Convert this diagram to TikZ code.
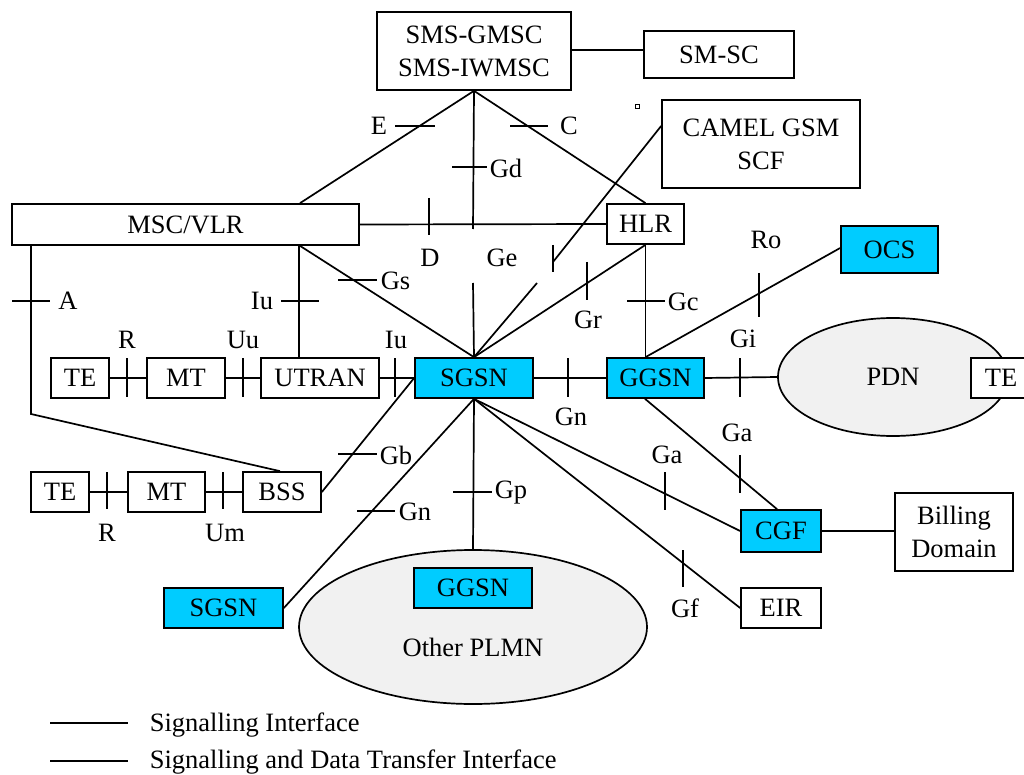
\documentclass[tikz,border=0pt]{standalone}
\usepackage{fontspec}
\setmainfont{Liberation Serif}
\usetikzlibrary{shapes.geometric}
\definecolor{cy}{HTML}{00CCFF}
\definecolor{lg}{HTML}{F1F1F1}
\begin{document}
\begin{tikzpicture}[x=1pt,y=-1pt,line width=1.7pt,
  box/.style={draw,rectangle,inner sep=0pt,align=center,fill=white,font=\fontsize{26.5}{33}\selectfont},
  gbox/.style={box,fill=cy},
  cloud/.style={draw,ellipse,fill=lg,inner sep=0pt,font=\fontsize{26.5}{33}\selectfont},
  lab/.style={inner sep=0pt,font=\fontsize{26.5}{33}\selectfont}]
\useasboundingbox (0,0) rectangle (1024,775);
% clouds
\node[cloud,minimum width=230,minimum height=118] (pdn) at (893,377) {PDN};
\node[cloud,minimum width=348,minimum height=154] (plmn) at (473,627) {};
\node[lab] (tplmn) at (473,647) {Other PLMN};
% boxes
\node[box,minimum width=194,minimum height=78] (sms) at (474,51) {SMS-GMSC\\SMS-IWMSC};
\node[box,minimum width=150,minimum height=47] (smsc) at (719,54.5) {SM-SC};
\node[box,minimum width=198,minimum height=88] (camel) at (761,144) {CAMEL GSM\\SCF};
\node[box,minimum width=347,minimum height=41] (msc) at (185.5,224.5) {MSC/VLR};
\node[box,minimum width=77,minimum height=40] (hlr) at (645.5,224) {HLR};
\node[gbox,minimum width=97,minimum height=47] (ocs) at (889.5,249.5) {OCS};
\node[box,minimum width=58,minimum height=40] (te1) at (80,378) {TE};
\node[box,minimum width=78,minimum height=40] (mt1) at (186,378) {MT};
\node[box,minimum width=118,minimum height=40] (utran) at (320,378) {UTRAN};
\node[gbox,minimum width=118,minimum height=40] (sgsn) at (474,378) {SGSN};
\node[gbox,minimum width=97,minimum height=40] (ggsn) at (655.5,378) {GGSN};
\node[box,minimum width=60,minimum height=40] (te3) at (1001,378) {TE};
\node[box,minimum width=58,minimum height=40] (te2) at (60,492) {TE};
\node[box,minimum width=77,minimum height=40] (mt2) at (166.5,492) {MT};
\node[box,minimum width=78,minimum height=40] (bss) at (282,492) {BSS};
\node[gbox,minimum width=80,minimum height=42] (cgf) at (781,531) {CGF};
\node[box,minimum width=118,minimum height=78] (bill) at (954,532) {Billing\\Domain};
\node[box,minimum width=80,minimum height=40] (eir) at (781,608) {EIR};
\node[gbox,minimum width=119,minimum height=40] (sgsn2) at (223.5,608) {SGSN};
\node[gbox,minimum width=118,minimum height=40] (ggsn2) at (473,588) {GGSN};
% stray mark
\draw[line width=0.9pt] (635,104) rectangle (639,108);
% connectors
\draw (sms.south) -- (msc.north -| 300,0);
\draw (395,126) -- (435,126);
\node[lab] (lE) at (379,126) {E};
\draw (sms.south) -- (473,229);
\draw (473,283) -- (sgsn.north);
\draw (452,167) -- (487,167);
\node[lab,anchor=west] (lGd) at (489,168) {Gd};
\draw (sms.south) -- (hlr.north);
\draw (510,126) -- (548,126);
\node[lab] (lC) at (569,126) {C};
\draw (sms.east |- 0,50) -- (smsc.west |- 0,50);
\draw (msc.east) -- (hlr.west);
\draw (429,198) -- (429,235);
\node[lab] (lD) at (430,258) {D};
\draw (msc.south -| 300,0) -- (sgsn.north);
\draw (338,280) -- (377,280);
\node[lab,anchor=west] (lGs) at (380,281) {Gs};
\draw (msc.south -| 299,0) -- (utran.north -| 299,0);
\draw (281,301) -- (319,301);
\node[lab] (lIu1) at (262,301) {Iu};
\draw (msc.south -| 31,0) -- (31,414) -- (bss.north -| 280,0);
\draw (12,301) -- (50,301);
\node[lab] (lA) at (68,301) {A};
\draw (camel.west |- 0,126) -- (553,262);
\draw (537,283) -- (sgsn.north);
\draw (553,245) -- (553,272);
\node[lab] (lGe) at (502,258) {Ge};
\draw (sgsn.north) -- (hlr.south);
\draw (587,262) -- (587,300);
\node[lab] (lGr) at (588,320) {Gr};
\draw (hlr.south) -- (hlr.south |- ggsn.north);
\draw (627,301) -- (665,301);
\node[lab,anchor=west] (lGc) at (667,302) {Gc};
\draw (hlr.south |- ggsn.north) -- (ocs.west |- 0,248);
\draw (759,273) -- (759,317);
\node[lab] (lRo) at (766,240) {Ro};
\draw (sgsn.east) -- (ggsn.west);
\draw (568,358) -- (568,397);
\node[lab] (lGn1) at (571,417) {Gn};
\draw (ggsn.east) -- (pdn.west);
\draw (740,358) -- (740,397);
\node[lab] (lGi) at (743,339) {Gi};
\draw (ggsn.south -| 645,0) -- (cgf.north -| 777,0);
\draw (740,455) -- (740,493);
\node[lab] (lGa1) at (737,433) {Ga};
\draw (sgsn.south) -- (cgf.west);
\draw (665,472) -- (665,510);
\node[lab] (lGa2) at (667,455) {Ga};
\draw (cgf.east) -- (cgf.east -| bill.west);
\draw (sgsn.south) -- (eir.west);
\draw (683,550) -- (683,587);
\node[lab] (lGf) at (685,608) {Gf};
\draw (sgsn.south) -- (plmn.north);
\draw (453,492) -- (492,492);
\node[lab,anchor=west] (lGp) at (494,493) {Gp};
\draw (sgsn.south) -- (sgsn2.east);
\draw (357,511) -- (395,511);
\node[lab,anchor=west] (lGn2) at (398,512) {Gn};
\draw (sgsn.west) -- (bss.east);
\draw (338,454) -- (377,454);
\node[lab,anchor=west] (lGb) at (379,455) {Gb};
\draw (utran.east) -- (sgsn.west);
\draw (395,358) -- (395,397);
\node[lab] (lIu2) at (396,340) {Iu};
\draw (te1.east) -- (mt1.west);
\draw (127,358) -- (127,397);
\node[lab] (lR1) at (127,340) {R};
\draw (mt1.east) -- (utran.west);
\draw (243,358) -- (243,397);
\node[lab] (lUu) at (243,340) {Uu};
\draw (te2.east) -- (mt2.west);
\draw (107,472) -- (107,509);
\node[lab] (lR2) at (107,533) {R};
\draw (mt2.east) -- (bss.west);
\draw (223,472) -- (223,509);
\node[lab] (lUm) at (225,533) {Um};
% legend
\coordinate (lg1a) at (50,723);
\coordinate (lg1b) at (128,723);
\coordinate (lg2a) at (50,761);
\coordinate (lg2b) at (128,761);
\draw (lg1a) -- (lg1b);
\draw (lg2a) -- (lg2b);
\node[lab,anchor=west] (leg1) at (149,725) {Signalling Interface};
\node[lab,anchor=west] (leg2) at (149,762) {Signalling and Data Transfer Interface};
\end{tikzpicture}
\end{document}
